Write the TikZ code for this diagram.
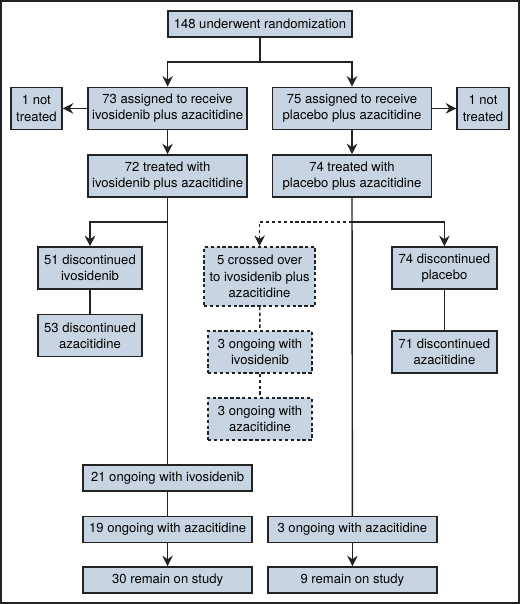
\documentclass[tikz,border=0pt]{standalone}
\usepackage{fontspec}
\setmainfont{TeX Gyre Heros}
\usepackage{xcolor}
\definecolor{boxfill}{RGB}{199,213,226}
\definecolor{boxline}{RGB}{35,35,35}
\usepackage{tikz}
\usetikzlibrary{arrows.meta,positioning,calc}
\tikzset{
  fbox/.style={rectangle,draw=boxline,fill=boxfill,line width=1.1pt,
               minimum width=#1,minimum height=1.05cm,align=center,
               inner sep=1pt,font=\fontsize{9.3}{11.7}\selectfont},
  fbox/.default=3.98cm,
  arr/.style={-{Stealth[length=7.5pt,width=7.5pt,inset=2.5pt]},line width=1pt,color=boxline},
  ln/.style={line width=1pt,color=boxline},
}

\begin{document}
\begin{tikzpicture}[
        xbox/.style={fbox=#1,dash pattern=on 2.4pt off 1.8pt},
        lowbox/.style={fbox=#1,minimum height=0.65cm},
        dsh/.style={dash pattern=on 2.4pt off 1.8pt},
      ]
        \useasboundingbox (0,0) rectangle (13,15.1);
        \draw[boxline,line width=1.4pt] (0.02,0.02) rectangle (12.98,15.08);

        % ── Randomization and arms
        \node[lowbox=4.6cm] (rand) at (6.5,14.5) {148 underwent randomization};
        \node[fbox] (assignA) at (4.19,12.39) {73 assigned to receive\\ivosidenib plus azacitidine};
        \node[fbox] (assignB) at (8.8,12.39)  {75 assigned to receive\\placebo plus azacitidine};
        \node[fbox=1.28cm] (notA) at (0.91,12.39)   {1 not\\treated};
        \node[fbox=1.3cm]  (notB) at (12.075,12.39) {1 not\\treated};
        \node[fbox] (treatA) at (4.19,10.7) {72 treated with\\ivosidenib plus azacitidine};
        \node[fbox] (treatB) at (8.8,10.7)  {74 treated with\\placebo plus azacitidine};

        % ── Discontinued / crossover
        \node[fbox=2.6cm] (disIvo)  at (2.25,8.4)  {51 discontinued\\ivosidenib};
        \node[fbox=2.6cm] (disAzaA) at (2.25,6.71) {53 discontinued\\azacitidine};
        \node[xbox=2.78cm,minimum height=1.48cm] (cross) at (6.49,8.19)
          {5 crossed over\\to ivosidenib plus\\azacitidine};
        \node[xbox=2.6cm] (ongIvoX) at (6.5,6.3)   {3 ongoing with\\ivosidenib};
        \node[xbox=2.6cm] (ongAzaX) at (6.5,4.625) {3 ongoing with\\azacitidine};
        \node[fbox=2.63cm] (disPla)  at (11.11,8.4) {74 discontinued\\placebo};
        \node[fbox=2.63cm] (disAzaB) at (11.11,6.3) {71 discontinued\\azacitidine};

        % ── Ongoing and on study
        \node[lowbox=4.22cm] (ongIvoA) at (4.19,3.15) {21 ongoing with ivosidenib};
        \node[lowbox=4.22cm] (ongAzaA) at (4.19,1.86) {19 ongoing with azacitidine};
        \node[lowbox=4.22cm] (remA)    at (4.19,0.6)  {30 remain on study};
        \node[lowbox=4.22cm] (ongAzaB) at (8.81,1.86) {3 ongoing with azacitidine};
        \node[lowbox=4.22cm] (remB)    at (8.81,0.6)  {9 remain on study};

        % ── Split points
        \coordinate (top) at (6.5,13.55);
        \coordinate (brA) at (4.19,9.55);
        \coordinate (brB) at (8.8,9.55);

        % ── Arrows
        \draw[ln] (rand.south)--(top);
        \draw[arr] (top)-|(assignA.north); \draw[arr] (top)-|(assignB.north);
        \draw[arr] (assignA.west)--(notA.east); \draw[arr] (assignB.east)--(notB.west);
        \draw[arr] (assignA.south)--(treatA.north); \draw[arr] (assignB.south)--(treatB.north);
        \draw[ln] (treatA.south)--(ongIvoA.north);
        \draw[ln] (treatB.south)--(ongAzaB.north);
        \draw[arr] (brA)-|(disIvo.north);
        \draw[arr] (brB)-|(disPla.north);
        \draw[arr,dsh] (brB)-|(cross.north);
        \draw[ln] (disIvo)--(disAzaA);
        \draw[ln] (disPla)--(disAzaB);
        \draw[ln,dsh] (cross)--(ongIvoX);
        \draw[ln,dsh] (ongIvoX)--(ongAzaX);
        \draw[ln] (ongIvoA)--(ongAzaA);
        \draw[arr] (ongAzaA.south)--(remA.north);
        \draw[arr] (ongAzaB.south)--(remB.north);
      \end{tikzpicture}
\end{document}
